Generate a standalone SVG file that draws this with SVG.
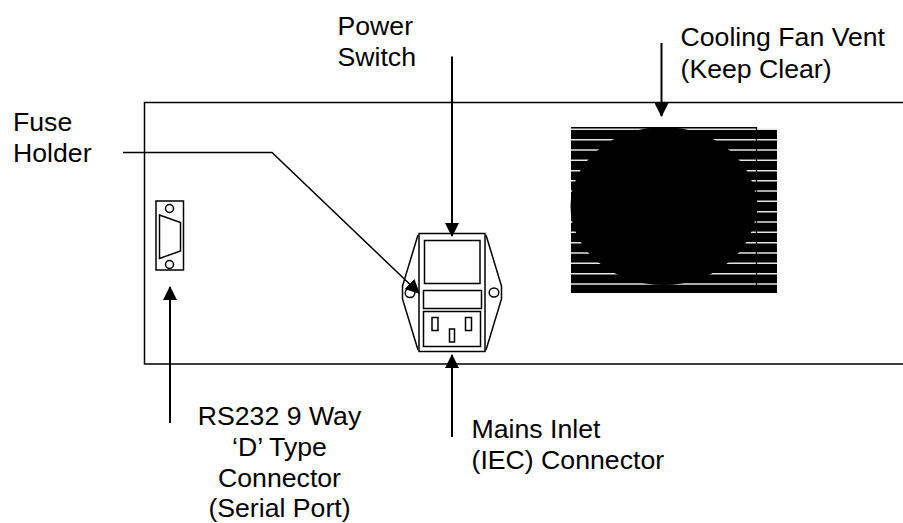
<svg xmlns="http://www.w3.org/2000/svg" width="903" height="523" viewBox="0 0 903 523">
<defs>
<marker id="ah" viewBox="0 0 14 14" refX="13" refY="7" markerWidth="14" markerHeight="14" markerUnits="userSpaceOnUse" orient="auto"><path d="M0 0L14 7L0 14z" fill="#000"/></marker>
</defs>
<style>
.o{fill:none;stroke:#000;stroke-width:1.5}
.w{fill:#fff;stroke:#000;stroke-width:1.5}
.c{fill:none;stroke:#000;stroke-width:2;marker-end:url(#ah)}
.f{fill:none;stroke:#000;stroke-width:1.5;marker-end:url(#ah)}
.s{stroke:#e4e4e4;stroke-width:1.6}
text{font-family:"Liberation Sans",Arial,sans-serif;font-size:26.670px;fill:#000}
</style>
<rect width="903" height="523" fill="#fff"/>
<g id="panel"><path class="o" d="M903 102.500H144.500V364H903"/></g>
<g id="fan">
<path fill="#000" d="M571 127H756V129H777V293H571z"/>
<g class="s">
<path d="M571 129.300H777M571 139.700H777M571 150H777M571 160.300H777M571 170.700H777M571 180.700H777M571 191H777M571 201.300H777M571 211.700H777M571 222H777M571 232.300H777M571 242.700H777M571 253H777M571 263.300H777M571 273.700H777M571 284H777"/>
</g>
<ellipse cx="663.500" cy="206" rx="93" ry="79" fill="#000"/>
<path d="M756.500 127V293" stroke="#000" stroke-width="1.200"/>
</g>
<g id="serial-port">
<rect class="o" x="156" y="201" width="27.500" height="69"/>
<circle class="o" cx="169.500" cy="208.500" r="4"/>
<circle class="o" cx="169.500" cy="264.500" r="4"/>
<path class="o" d="M159.500 215L180.500 222.500V251L159.500 258.500z"/>
</g>
<g id="power-module">
<path class="o" d="M418 235L402.500 286V299L418 350M486 235L501.500 286V299L486 350"/>
<ellipse class="o" cx="410" cy="293" rx="4.800" ry="4.500"/>
<ellipse class="o" cx="494" cy="292.500" rx="4.800" ry="4.500"/>
<rect class="w" x="419" y="233.500" width="66" height="118"/>
<rect class="o" x="424.500" y="240.500" width="55.500" height="43"/>
<rect class="o" x="423.500" y="290.500" width="58" height="18"/>
<rect class="o" x="423.500" y="311.500" width="57" height="35"/>
<rect class="o" x="432" y="317.500" width="6" height="13"/>
<rect class="o" x="465.500" y="317.500" width="6" height="13"/>
<rect class="o" x="449.500" y="329" width="5" height="13"/>
</g>
<g id="connectors">
<path class="c" d="M452 56.500V236"/>
<path class="c" d="M661.500 43V116"/>
<path class="f" d="M123 152.500H272L419 293"/>
<path class="c" d="M170 423V287"/>
<path class="c" d="M452 437V355"/>
</g>
<g id="labels">
<text x="337.500" y="35">Power</text>
<text x="337.500" y="66">Switch</text>
<text x="680.500" y="46">Cooling Fan Vent</text>
<text x="680.500" y="77.500">(Keep Clear)</text>
<text x="13" y="130.500">Fuse</text>
<text x="13" y="161.500">Holder</text>
<text x="279.500" y="425" text-anchor="middle">RS232 9 Way</text>
<text x="279.500" y="456" text-anchor="middle">‘D’ Type</text>
<text x="279.500" y="486.500" text-anchor="middle">Connector</text>
<text x="279.500" y="517" text-anchor="middle">(Serial Port)</text>
<text x="471.500" y="437.500">Mains Inlet</text>
<text x="471.500" y="469">(IEC) Connector</text>
</g>
</svg>
